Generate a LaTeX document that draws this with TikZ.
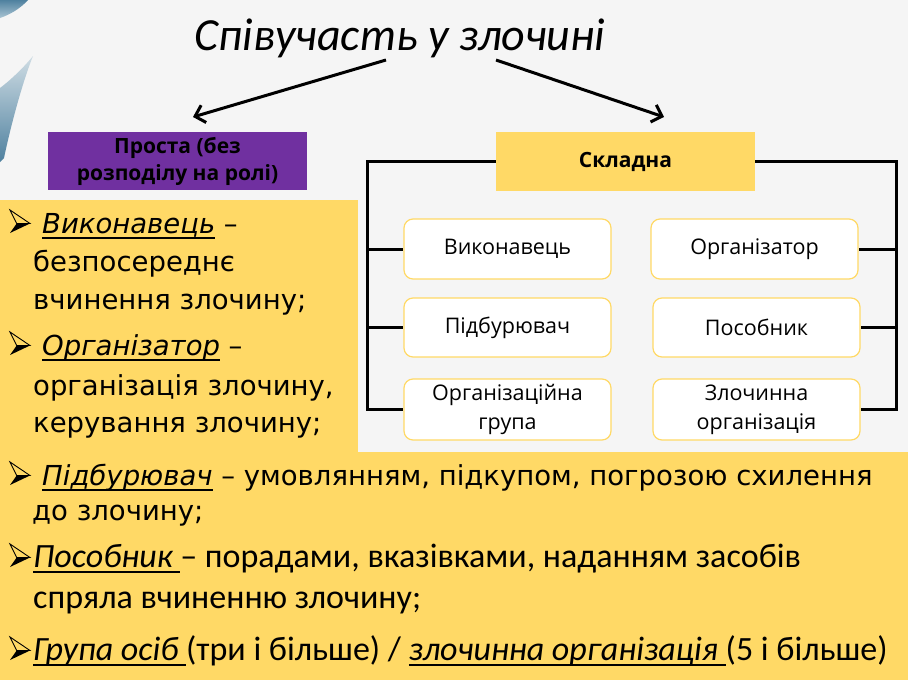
\documentclass[tikz,border=0pt]{standalone}
\usepackage{fontspec}
\setmainfont{Carlito}
\newfontfamily\osans{Open Sans}
\newfontfamily\djv{DejaVu Sans}
\usetikzlibrary{arrows.meta}
\definecolor{bg}{HTML}{F5F5F5}
\definecolor{gold}{HTML}{FFD966}
\definecolor{purp}{HTML}{7030A0}
\definecolor{deco1}{HTML}{4F819F}
\definecolor{deco2}{HTML}{A9C4D3}
\newcommand\myul[1]{\mbox{\setbox0\hbox{#1}\rlap{\rule[-6pt]{\wd0}{1.8pt}}\box0}}
\tikzset{
  bx/.style={draw=gold, line width=1.2pt, fill=white, rounded corners=9pt,
    minimum width=207pt, minimum height=60pt, inner sep=0pt,
    font=\osans\fontsize{21.5}{29}\selectfont, align=center},
  hdr/.style={inner sep=0pt, minimum width=259pt, minimum height=59pt,
    font=\osans\bfseries\fontsize{21}{27}\selectfont, align=center},
  frame/.style={line width=3pt, black},
  arr/.style={line width=3pt, -{Straight Barb[length=9pt,width=18pt]}},
  lt/.style={anchor=base west, inner sep=0pt, font=\djv\fontsize{27.5}{32}\selectfont},
  ct/.style={anchor=base west, inner sep=0pt, font=\fontsize{34}{40}\selectfont},
  bullet/.pic={
    \fill[black] (6.7,-9.5) -- (20,-9.5) -- (0,0) -- cycle;
    \draw[black, line width=0.9pt, line join=miter] (0,-23) -- (20,-9.5) -- (6.7,-9.5) -- cycle;
  },
}
\begin{document}
\begin{tikzpicture}[x=1pt,y=-1pt]
\useasboundingbox (0,0) rectangle (908,680);
\fill[bg] (0,0) rectangle (908,680);
% decoration
\shade[top color=deco1, bottom color=deco2] (0,0) -- (28,0) .. controls (20,9) and (9,15) .. (0,18) -- cycle;
\shade[top color=deco2!50!bg, bottom color=deco1] (33,56) .. controls (24,78) and (12,120) .. (4,158) -- (0,162) -- (0,88) .. controls (12,79) and (25,66) .. (33,56) -- cycle;
% panels
\fill[gold] (0,200) rectangle (358,452);
\fill[gold] (0,452) rectangle (908,680);
% title
\node[anchor=base, inner sep=0pt, font=\itshape\fontsize{46}{50}\selectfont] (t) at (400,50) {Співучасть у злочині};
\coordinate (a1s) at (386,60);
\coordinate (a1e) at (193,117);
\coordinate (a2s) at (496,60);
\coordinate (a2e) at (664,117);
\draw[arr] (a1s) -- (a1e);
\draw[arr] (a2s) -- (a2e);
% purple box
\node[hdr, fill=purp, minimum height=58pt] (pr) at (177.5,161) {Проста (без\\розподілу на ролі)};
% complex
\node[hdr, fill=gold] (sk) at (625.5,161.5) {Складна};
\node[bx] (v) at (507.5,249) {Виконавець};
\node[bx, minimum height=59pt] (p) at (507.5,327.5) {Підбурювач};
\node[bx, minimum height=61pt] (og) at (507.5,409.5) {Організаційна\\група};
\node[bx] (o) at (754.5,249) {Організатор};
\node[bx, minimum height=59pt] (ps) at (756.5,327.5) {Пособник};
\node[bx, minimum height=61pt] (zo) at (756.5,409.5) {Злочинна\\організація};
\coordinate (L) at (367,161.5);
\coordinate (R) at (896.5,161.5);
\draw[frame] (sk.west) -- (L) |- (og.west);
\draw[frame] (L |- v.west) -- (v.west);
\draw[frame] (L |- p.west) -- (p.west);
\draw[frame] (sk.east) -- (R) |- (zo.east);
\draw[frame] (R |- o.east) -- (o.east);
\draw[frame] (R |- ps.east) -- (ps.east);
% left panel text
\pic at (10,233) {bullet};
\node[lt] (l1) at (42,233) {\myul{\itshape Виконавець} –};
\node[lt] (l2) at (33,271) {безпосереднє};
\node[lt] (l3) at (33,309) {вчинення злочину;};
\pic at (10,355) {bullet};
\node[lt] (l4) at (42,355) {\myul{\itshape Організатор} –};
\node[lt] (l5) at (33,395) {організація злочину,};
\node[lt] (l6) at (33,432) {керування злочину;};
% bottom text
\pic at (10,485) {bullet};
\node[lt] (m1) at (42,485) {\myul{\itshape Підбурювач} – умовлянням, підкупом, погрозою схилення};
\node[lt] (m2) at (32,520) {до злочину;};
\pic at (10,567) {bullet};
\node[ct] (m3) at (33,567) {\myul{\itshape Пособник }– порадами, вказівками, наданням засобів};
\node[ct] (m4) at (33,608) {спряла вчиненню злочину;};
\pic at (10,660) {bullet};
\node[ct] (m5) at (33,660) {\myul{\itshape Група осіб }(три і більше) / \myul{\itshape злочинна організація }(5 і більше)};
\end{tikzpicture}
\end{document}
